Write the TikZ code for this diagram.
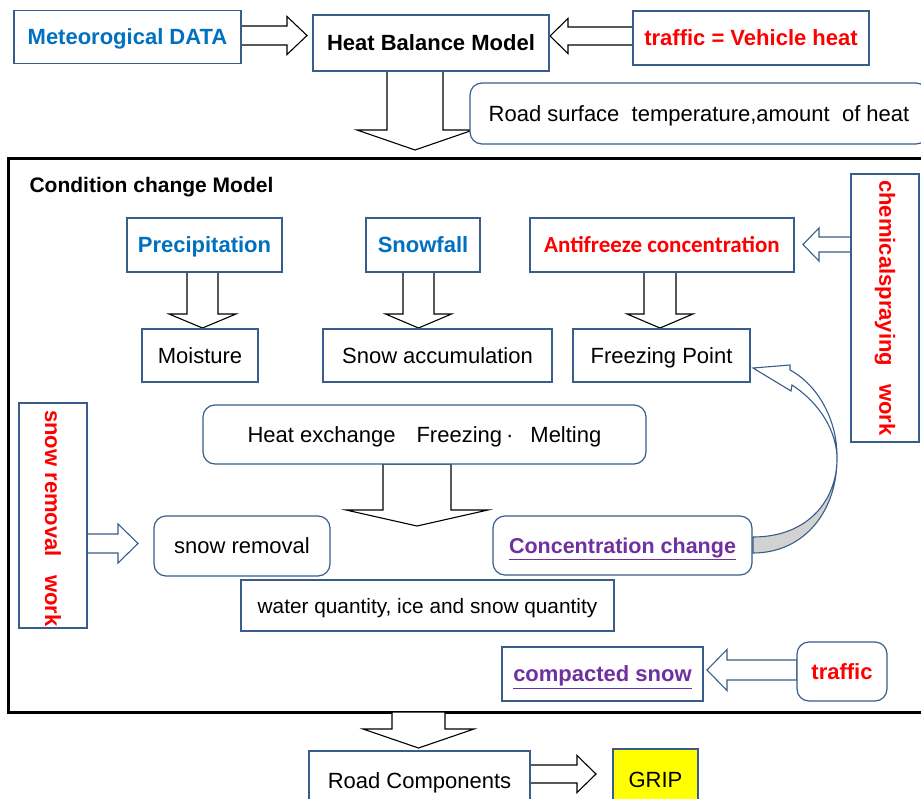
\documentclass[tikz,border=0pt]{standalone}
\usepackage{fontspec}
\setmainfont{Liberation Sans}
\newfontfamily\antifont{Carlito}
\usetikzlibrary{calc}

\definecolor{edgeblue}{RGB}{56,93,138}
\definecolor{txtblue}{RGB}{0,112,192}
\definecolor{txtred}{RGB}{255,0,0}
\definecolor{txtpurple}{RGB}{112,48,160}
\definecolor{ribbon}{RGB}{210,210,210}
\definecolor{gripyellow}{RGB}{255,255,0}

% block arrow: style, tail point, rotation, length, shaft half width, head half width, head length
\newcommand{\fatarrow}[7]{%
  \begin{scope}[shift={#2},rotate=#3]
    \filldraw[#1] (0,-#5) -- ({#4-#7},-#5) -- ({#4-#7},-#6) -- (#4,0)
      -- ({#4-#7},#6) -- ({#4-#7},#5) -- (0,#5) -- cycle;
  \end{scope}}

\tikzset{
  box/.style={draw=edgeblue, line width=1.2pt, fill=white, inner sep=0pt,
    align=center, text height=15.8pt, text depth=0pt,
    font=\fontsize{22}{26}\selectfont},
  rbox/.style={box, rounded corners=12pt},
  heavybox/.style={box, line width=2.6pt},
  fatblack/.style={draw=black, fill=white, line width=1.1pt, line join=miter},
  fatblue/.style={draw=edgeblue, fill=white, line width=1.1pt, line join=miter},
  boldtxt/.style={font=\fontsize{22}{26}\selectfont\bfseries},
}

\begin{document}
\begin{tikzpicture}[x=1pt, y=-1pt]
\useasboundingbox (0,0) rectangle (921,798);

% outer frame of the condition change model
\node[draw=black, line width=3pt, minimum width=927, minimum height=554, inner sep=0pt] (frame) at (471.5,435) {};
\node[boldtxt, font=\fontsize{21}{25}\selectfont\bfseries, anchor=base west] (condlabel) at (26,192) {Condition change Model};

% block arrows
\fatarrow{fatblack}{(241,35.5)}{0}{66}{9.5}{19}{20}
\fatarrow{fatblack}{(633,36)}{180}{83}{9}{17.5}{18}
\fatarrow{fatblack}{(415,71)}{-90}{79}{28}{58}{20}
\fatarrow{fatblack}{(202.5,272)}{-90}{56}{15.5}{33.5}{14}
\fatarrow{fatblack}{(418.5,272)}{-90}{56}{15.5}{33}{14}
\fatarrow{fatblack}{(660,272)}{-90}{56}{16}{33}{14}
\fatarrow{fatblue}{(851,244.5)}{180}{48}{7.5}{16.5}{16}
\fatarrow{fatblack}{(417,464)}{-90}{62}{34}{71}{16}
\fatarrow{fatblue}{(87,543.5)}{0}{51}{9.5}{19.5}{20}
\fatarrow{fatblue}{(797,670)}{180}{90}{10}{20.5}{20}
\fatarrow{fatblack}{(418.5,712)}{-90}{36}{26.5}{55.5}{19}
\fatarrow{fatblack}{(530,774)}{0}{66}{9}{18.5}{19}

% top row
\node[box, minimum width=227, minimum height=53] (meteo) at (127.5,37)
  {\color{txtblue}\bfseries Meteorogical DATA};
\node[heavybox, minimum width=236, minimum height=56] (hbm) at (431,43)
  {\bfseries Heat Balance Model};
\node[box, minimum width=236, minimum height=54] (vheat) at (751,38)
  {\color{txtred}\bfseries traffic = Vehicle heat};
\node[rbox, minimum width=458, minimum height=61] (roadtemp) at (699,113.5)
  {Road surface\ \ temperature,amount\ \ of heat};

% inputs inside the model
\node[box, minimum width=155, minimum height=54] (precip) at (204.5,245)
  {\color{txtblue}\bfseries Precipitation};
\node[box, minimum width=114, minimum height=54] (snowfall) at (423,245)
  {\color{txtblue}\bfseries Snowfall};
\node[box, minimum width=264, minimum height=54, text height=14.8pt] (antifreeze) at (662,245)
  {\antifont\fontsize{23}{27}\selectfont\color{txtred}\bfseries Antifreeze concentration};

\node[box, minimum width=116, minimum height=53] (moisture) at (200,355.5) {Moisture};
\node[box, minimum width=229, minimum height=53] (snowacc) at (437.5,355.5) {Snow accumulation};
\node[box, minimum width=177, minimum height=53] (freezept) at (661.5,355.5) {Freezing Point};

% side work boxes
\node[box, minimum width=68, minimum height=268] (chem) at (885,308) {};
\node[boldtxt, text=txtred, rotate=-90] (chemtxt) at (chem.center) {chemicalspraying\ \ \ work};
\node[box, minimum width=68, minimum height=225] (snowwork) at (53,515.5) {};
\node[boldtxt, text=txtred, rotate=-90] (snowworktxt) at ($(snowwork.center)+(0,3)$) {snow removal\ \ \ work};

% heat exchange and results
\node[rbox, minimum width=443, minimum height=59] (heatex) at (424.5,434.5)
  {Heat exchange\hspace{21pt}Freezing\hspace{4pt}·\hspace{17pt}Melting};
\node[rbox, minimum width=176, minimum height=60] (snowrem) at (242,546) {snow removal};
\node[rbox, minimum width=259, minimum height=59, text height=15.3pt] (conc) at (622.5,545.5)
  {\color{txtpurple}\bfseries\fontsize{21.5}{25}\selectfont\underline{Concentration change}};
\node[box, minimum width=373, minimum height=51, text height=15pt] (water) at (427.5,605.5)
  {\fontsize{20.8}{25}\selectfont water quantity, ice and snow quantity};

% compacted snow
\node[box, minimum width=201, minimum height=54] (compact) at (602.5,674)
  {\color{txtpurple}\bfseries\underline{compacted snow}};
\node[rbox, minimum width=90, minimum height=59] (trafficb) at (842,671.5)
  {\color{txtred}\bfseries traffic};

% curved arrow from concentration change back to freezing point
\coordinate (twist) at (837,456);
\filldraw[draw=edgeblue, fill=white, line width=1.1pt, line join=miter]
  (790,370) .. controls (818,385) and (837,420) .. (twist)
  .. controls (835,425) and (815,400) .. (792,385)
  -- (791,391) -- (753,368) -- (790,365) -- cycle;
\filldraw[draw=edgeblue, fill=ribbon, line width=1.1pt]
  (twist) .. controls (838,500) and (808,537) .. (753,537)
  -- (753,553) .. controls (805,553) and (838,510) .. (twist) -- cycle;

% outputs below the model
\node[box, minimum width=221, minimum height=59] (roadcomp) at (419.5,780.5) {Road Components};
\node[heavybox, fill=gripyellow, minimum width=85, minimum height=61] (grip) at (655.5,779.5) {GRIP};
\end{tikzpicture}
\end{document}
